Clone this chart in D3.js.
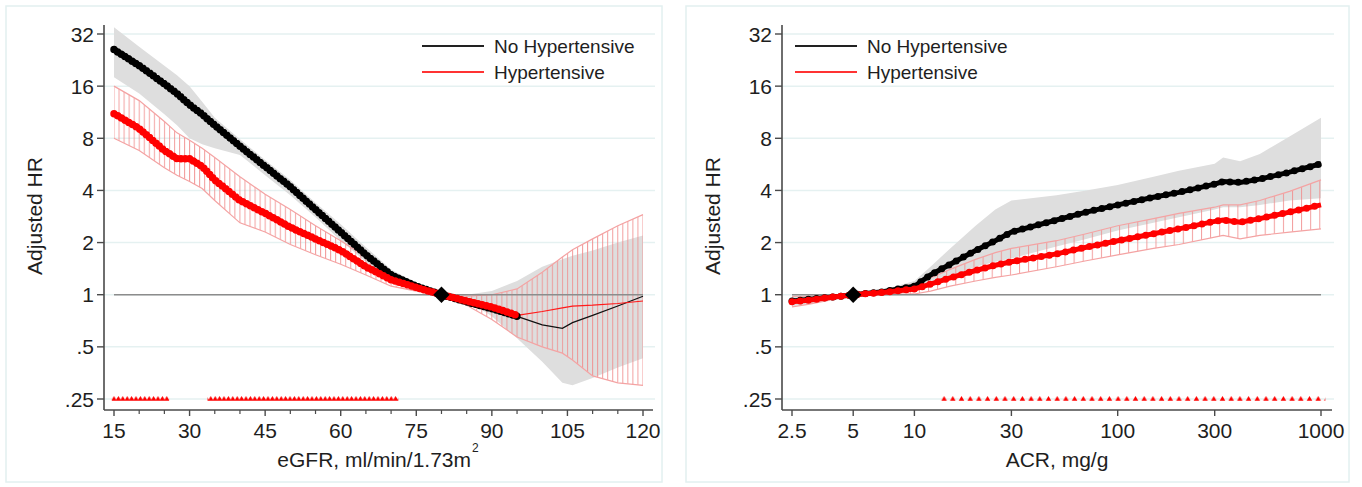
<!DOCTYPE html>
<html>
<head>
<meta charset="utf-8">
<script src="https://cdn.jsdelivr.net/npm/d3@7"></script>
<style>
  body { margin: 0; background: #fff; }
  text { font-family: "Liberation Sans", Arial, sans-serif; fill: #1e1e1e; }
</style>
</head>
<body>
<svg width="1362" height="487"></svg>
<script>
/* ---------------- data ---------------- */
var yTicks  = [0.25, 0.5, 1, 2, 4, 8, 16, 32];
var yLabels = [".25", ".5", "1", "2", "4", "8", "16", "32"];
var seriesNames = ["No Hypertensive", "Hypertensive"];

// left panel : eGFR
var egfr = [15, 20, 25, 27.5, 30, 32.5, 35, 40, 45, 50, 55, 60, 65, 70, 75, 80, 85, 90, 95, 100, 104, 106, 110, 115, 120];
var egfrNoHtn    = [26, 21, 16.5, 14.5, 12.5, 11, 9.5, 7.2, 5.5, 4.2, 3.1, 2.3, 1.7, 1.3, 1.12, 1, 0.91, 0.83, 0.75, 0.67, 0.64, 0.69, 0.76, 0.86, 0.98];
var egfrNoHtnHi  = [35, 27, 21, 18.5, 16, 13, 10.5, 7.9, 6.0, 4.6, 3.4, 2.55, 1.88, 1.4, 1.17, 1, 1.0, 1.05, 1.2, 1.45, 1.6, 1.68, 1.8, 2.0, 2.2];
var egfrNoHtnLo  = [18, 14.5, 11, 9.5, 8, 7.4, 7, 6.4, 4.9, 3.75, 2.8, 2.05, 1.55, 1.2, 1.07, 1, 0.93, 0.75, 0.56, 0.41, 0.31, 0.30, 0.33, 0.38, 0.43];
var egfrHtn      = [11.1, 9.1, 6.8, 6.1, 6.1, 5.5, 4.6, 3.5, 2.95, 2.45, 2.1, 1.8, 1.45, 1.22, 1.1, 1, 0.92, 0.85, 0.76, 0.80, 0.84, 0.86, 0.87, 0.89, 0.92];
var egfrHtnHi    = [16, 13.2, 10, 8.6, 7.8, 7.0, 6.2, 4.8, 3.8, 3.1, 2.5, 2.05, 1.65, 1.35, 1.15, 1, 0.98, 1.0, 1.08, 1.35, 1.65, 1.82, 2.1, 2.5, 2.9];
var egfrHtnLo    = [8, 6.8, 5.4, 4.9, 4.5, 4.1, 3.5, 2.6, 2.3, 1.95, 1.7, 1.5, 1.3, 1.12, 1.05, 1, 0.87, 0.72, 0.57, 0.5, 0.46, 0.42, 0.34, 0.31, 0.30];
var egfrDotEnd = 95;               // beyond this the estimates are drawn as thin lines
var egfrRef = 80;
var egfrSig = [[15, 25.5], [34, 71]];
var egfrTicks = [15, 30, 45, 60, 75, 90, 105, 120];
var egfrMinor = [20, 25, 35, 40, 50, 55, 65, 70, 80, 85, 95, 100, 110, 115];

// right panel : ACR
var acr = [2.5, 3, 4, 5, 7, 10, 12, 15, 20, 25, 30, 50, 70, 100, 150, 200, 300, 330, 400, 500, 700, 1000];
var acrNoHtn   = [0.92, 0.94, 0.97, 1, 1.04, 1.12, 1.3, 1.5, 1.8, 2.05, 2.3, 2.7, 3.0, 3.3, 3.65, 3.9, 4.35, 4.5, 4.45, 4.65, 5.1, 5.7];
var acrNoHtnHi = [0.98, 0.99, 1.0, 1, 1.07, 1.2, 1.45, 1.85, 2.5, 3.1, 3.5, 3.75, 4.0, 4.3, 4.8, 5.2, 5.7, 6.2, 5.9, 6.5, 8.2, 10.5];
var acrNoHtnLo = [0.86, 0.88, 0.94, 1, 1.02, 1.04, 1.15, 1.25, 1.45, 1.55, 1.62, 1.9, 2.1, 2.35, 2.6, 2.8, 3.1, 3.2, 3.2, 3.3, 3.5, 3.6];
var acrHtn     = [0.91, 0.93, 0.97, 1, 1.03, 1.08, 1.15, 1.25, 1.38, 1.48, 1.55, 1.72, 1.88, 2.05, 2.25, 2.4, 2.65, 2.7, 2.62, 2.75, 3.0, 3.3];
var acrHtnHi   = [0.98, 0.98, 0.99, 1, 1.06, 1.15, 1.25, 1.4, 1.6, 1.75, 1.85, 2.05, 2.25, 2.5, 2.75, 2.95, 3.2, 3.3, 3.3, 3.5, 3.95, 4.6];
var acrHtnLo   = [0.85, 0.88, 0.94, 1, 1.0, 1.01, 1.05, 1.12, 1.2, 1.26, 1.3, 1.45, 1.57, 1.7, 1.85, 1.95, 2.15, 2.2, 2.1, 2.2, 2.3, 2.4];
var acrRef = 5;
var acrSig = [[14, 1000]];
var acrTicks  = [2.5, 5, 10, 30, 100, 300, 1000];
var acrLabels = ["2.5", "5", "10", "30", "100", "300", "1000"];

/* ---------------- drawing ---------------- */
var svg = d3.select("svg");
var defs = svg.append("defs");

var y = d3.scaleLog().base(2).domain([0.25, 32]).range([399, 34]);

function drawPanel(p) {
  var x = p.x, g = svg.append("g");
  var ax = p.axisX, axY = 410;

  // panel frame
  g.append("rect").attr("x", p.box[0]).attr("y", 6).attr("width", p.box[1] - p.box[0]).attr("height", 476)
    .attr("fill", "#fff").attr("stroke", "#e2f0f0").attr("stroke-width", 1.5);

  // grid
  g.selectAll(".grid").data(yTicks).enter().append("line")
    .attr("x1", ax).attr("x2", p.gridEnd)
    .attr("y1", function(d){ return y(d); }).attr("y2", function(d){ return y(d); })
    .attr("stroke", "#e5f1f1").attr("stroke-width", 1.5);

  function rows(xs, arr) { return xs.map(function(v, i){ return [v, arr[i]]; }); }
  function band(xs, lo, hi) { return xs.map(function(v, i){ return [v, lo[i], hi[i]]; }); }
  var area = d3.area().x(function(d){ return x(d[0]); }).y0(function(d){ return y(d[1]); }).y1(function(d){ return y(d[2]); });
  var line = d3.line().x(function(d){ return x(d[0]); }).y(function(d){ return y(d[1]); });

  // grey band (No Hypertensive CI)
  g.append("path").datum(band(p.xs, p.blackLo, p.blackHi)).attr("d", area).attr("fill", "#dedede");

  // red capped bars (Hypertensive CI) as a hatched band
  var step = p.barStep;
  defs.append("pattern").attr("id", "bars" + p.id).attr("patternUnits", "userSpaceOnUse")
    .attr("x", x(p.xs[0]) - 0.5).attr("y", 0).attr("width", step).attr("height", 487)
    .append("line").attr("x1", 0.5).attr("x2", 0.5).attr("y1", 0).attr("y2", 487)
    .attr("stroke", "#f08c8c").attr("stroke-width", 1);
  var rb = band(p.xs, p.redLo, p.redHi);
  g.append("path").datum(rb).attr("d", area).attr("fill", "url(#bars" + p.id + ")").attr("opacity", 0.85);
  g.append("path").datum(rows(p.xs, p.redHi)).attr("d", line).attr("fill", "none").attr("stroke", "#f4a3a3").attr("stroke-width", 1.2);
  g.append("path").datum(rows(p.xs, p.redLo)).attr("d", line).attr("fill", "none").attr("stroke", "#f4a3a3").attr("stroke-width", 1.2);

  // reference line at HR = 1
  g.append("line").attr("x1", x(p.xs[0])).attr("x2", x(p.xs[p.xs.length - 1]))
    .attr("y1", y(1)).attr("y2", y(1)).attr("stroke", "#8c8c8c").attr("stroke-width", 1.5);

  // estimates
  var bk = rows(p.xs, p.black), rd = rows(p.xs, p.red);
  var dotEnd = p.dotEnd;
  g.append("path").datum(bk.filter(function(d){ return d[0] >= dotEnd; })).attr("d", line)
    .attr("fill", "none").attr("stroke", "#111").attr("stroke-width", 1.2);
  g.append("path").datum(rd.filter(function(d){ return d[0] >= dotEnd; })).attr("d", line)
    .attr("fill", "none").attr("stroke", "#ff1a1a").attr("stroke-width", 1.2);
  [[bk, "#000"], [rd, "#ff0000"]].forEach(function(s) {
    var pts = s[0].filter(function(d){ return d[0] <= dotEnd; });
    g.append("path").datum(pts).attr("d", line).attr("fill", "none")
      .attr("stroke", s[1]).attr("stroke-width", p.dotW - 2);
    g.append("path").datum(pts).attr("d", line).attr("fill", "none")
      .attr("stroke", s[1]).attr("stroke-width", p.dotW)
      .attr("stroke-linecap", "round").attr("stroke-dasharray", "0 " + p.dotGap);
  });

  // reference diamond
  g.append("path").attr("d", d3.symbol(d3.symbolDiamond2, 170)())
    .attr("transform", "translate(" + x(p.ref) + "," + y(1) + ")").attr("fill", "#000");

  // significance triangles
  defs.append("pattern").attr("id", "tri" + p.id).attr("patternUnits", "userSpaceOnUse")
    .attr("x", x(p.sig[0][0]) - p.triStep / 2).attr("y", y(0.25) - 4).attr("width", p.triStep).attr("height", 8)
    .append("path").attr("d", d3.symbol(d3.symbolTriangle, 13)()).attr("transform", "translate(" + p.triStep / 2 + ",4.2)")
    .attr("fill", "#ff0000");
  g.selectAll(".sig").data(p.sig).enter().append("rect")
    .attr("x", function(d){ return x(d[0]) - p.triStep / 2; })
    .attr("width", function(d){ return x(d[1]) - x(d[0]) + p.triStep; })
    .attr("y", y(0.25) - 4).attr("height", 8).attr("fill", "url(#tri" + p.id + ")");

  // axes
  g.append("line").attr("x1", ax).attr("x2", ax).attr("y1", 25).attr("y2", axY).attr("stroke", "#4a4a4a").attr("stroke-width", 1.6);
  g.append("line").attr("x1", ax).attr("x2", p.gridEnd - 2).attr("y1", axY).attr("y2", axY).attr("stroke", "#4a4a4a").attr("stroke-width", 1.6);
  g.selectAll(".yt").data(yTicks).enter().append("line")
    .attr("x1", ax - 7).attr("x2", ax).attr("y1", function(d){ return y(d); }).attr("y2", function(d){ return y(d); })
    .attr("stroke", "#4a4a4a").attr("stroke-width", 1.4);
  g.selectAll(".yl").data(yTicks).enter().append("text")
    .attr("x", ax - 10).attr("y", function(d){ return y(d); }).attr("dy", "0.36em")
    .attr("text-anchor", "end").style("font-size", "21px")
    .text(function(d, i){ return yLabels[i]; });
  g.selectAll(".xt").data(p.ticks).enter().append("line")
    .attr("x1", function(d){ return x(d); }).attr("x2", function(d){ return x(d); })
    .attr("y1", axY).attr("y2", axY + 6).attr("stroke", "#4a4a4a").attr("stroke-width", 1.4);
  g.selectAll(".xm").data(p.minor).enter().append("line")
    .attr("x1", function(d){ return x(d); }).attr("x2", function(d){ return x(d); })
    .attr("y1", axY).attr("y2", axY + 4).attr("stroke", "#4a4a4a").attr("stroke-width", 1.2);
  g.selectAll(".xl").data(p.ticks).enter().append("text")
    .attr("x", function(d){ return x(d); }).attr("y", 438).attr("text-anchor", "middle").style("font-size", "21px")
    .text(function(d, i){ return p.labels[i]; });

  // axis titles
  g.append("text").attr("transform", "translate(" + (ax - 69) + ",216) rotate(-90)")
    .attr("text-anchor", "middle").attr("dy", "0.35em").style("font-size", "21px").text("Adjusted HR");
  var xt = g.append("text").attr("x", p.titleX).attr("y", 467).attr("text-anchor", "middle").style("font-size", "21px");
  xt.append("tspan").text(p.title);
  if (p.sup) xt.append("tspan").attr("dy", -15).attr("dx", 1).style("font-size", "12px").text(p.sup);

  // legend
  [["#222", 46], ["#ff3333", 72]].forEach(function(l, i) {
    g.append("line").attr("x1", p.legX).attr("x2", p.legX + 62).attr("y1", l[1]).attr("y2", l[1])
      .attr("stroke", l[0]).attr("stroke-width", 1.8);
    g.append("text").attr("x", p.legX + 72).attr("y", l[1]).attr("dy", "0.36em").style("font-size", "19px").text(seriesNames[i]);
  });
}

var xL = d3.scaleLinear().domain([15, 120]).range([114, 643]);
var xR = d3.scaleLog().domain([2.5, 1000]).range([792, 1321]);

drawPanel({
  id: "L", x: xL, xs: egfr, axisX: 104, gridEnd: 655, box: [6, 662],
  black: egfrNoHtn, blackHi: egfrNoHtnHi, blackLo: egfrNoHtnLo,
  red: egfrHtn, redHi: egfrHtnHi, redLo: egfrHtnLo,
  dotEnd: egfrDotEnd, dotW: 7.5, dotGap: 4.3, barStep: xL(16) - xL(15),
  ref: egfrRef, sig: egfrSig, triStep: 4.4,
  ticks: egfrTicks, labels: egfrTicks.map(String), minor: egfrMinor,
  title: "eGFR, ml/min/1.73m", sup: "2", titleX: 378, legX: 422
});
drawPanel({
  id: "R", x: xR, xs: acr, axisX: 782, gridEnd: 1334, box: [686, 1349],
  black: acrNoHtn, blackHi: acrNoHtnHi, blackLo: acrNoHtnLo,
  red: acrHtn, redHi: acrHtnHi, redLo: acrHtnLo,
  dotEnd: 1000, dotW: 7, dotGap: 8.2, barStep: 9.1,
  ref: acrRef, sig: acrSig, triStep: 8.7,
  ticks: acrTicks, labels: acrLabels, minor: [],
  title: "ACR, mg/g", sup: null, titleX: 1057, legX: 795
});
</script>
</body>
</html>
